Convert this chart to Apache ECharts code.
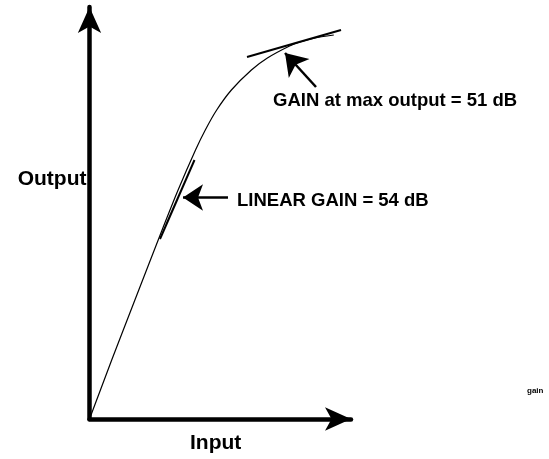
<!DOCTYPE html>
<html>
<head>
<meta charset="utf-8">
<script src="https://cdn.jsdelivr.net/npm/echarts@6/dist/echarts.min.js"></script>
<style>
  html, body { margin: 0; padding: 0; background: #fff; }
  #chart { width: 549px; height: 459px; }
</style>
</head>
<body>
<div id="chart"></div>
<script>
// Gain compression curve: output vs input (arbitrary units 0..100)
const curveX = [0, 8.49, 17.36, 27.76, 33.88, 40.54, 44.28, 48.64, 54.26, 61.91, 68.03, 76.52, 80.5, 86.23, 93.42];
const curveY = [0, 14.32, 28.88, 45.87, 55.58, 65.29, 70.15, 75.0, 79.85, 84.71, 87.62, 90.53, 91.5, 92.48, 93.2];

// Tangent at the linear (small-signal) region
const linTanX = [26.96, 40.15];
const linTanY = [43.69, 62.86];

// Tangent at maximum output
const maxTanX = [60.23, 96.18];
const maxTanY = [87.86, 94.42];

// Annotation arrows: [tailX, tailY, tipX, tipY]
const linArrow = [52.96, 53.76, 35.76, 53.76];
const maxArrow = [86.62, 80.58, 74.76, 88.83];

const labels = {
  output: 'Output',
  input: 'Input',
  linear: 'LINEAR GAIN = 54 dB',
  maxGain: 'GAIN at max output = 51 dB',
  tag: 'gain'
};

const FONT = '"Liberation Sans", Arial, sans-serif';
const pairs = (xs, ys) => xs.map((x, i) => [x, ys[i]]);

const chart = echarts.init(document.getElementById('chart'), null, { renderer: 'canvas' });

const axisCommon = {
  type: 'value',
  min: 0,
  max: 100,
  axisTick: { show: false },
  axisLabel: { show: false },
  splitLine: { show: false },
  axisLine: {
    show: true,
    onZero: false,
    symbol: ['none', 'arrow'],
    symbolSize: [17.5, 26],
    lineStyle: { color: '#000', width: 4.5 }
  }
};

chart.setOption({
  animation: false,
  backgroundColor: '#fff',
  grid: { left: 89.5, right: 198, top: 7, bottom: 40 },
  xAxis: axisCommon,
  yAxis: axisCommon,
  series: [
    {
      type: 'line',
      data: pairs(curveX, curveY),
      smooth: 0.2,
      showSymbol: false,
      clip: false,
      lineStyle: { color: '#000', width: 1.2 }
    },
    {
      type: 'line',
      data: pairs(linTanX, linTanY),
      showSymbol: false,
      clip: false,
      lineStyle: { color: '#000', width: 2 }
    },
    {
      type: 'line',
      data: pairs(maxTanX, maxTanY),
      showSymbol: false,
      clip: false,
      lineStyle: { color: '#000', width: 2 }
    },
    {
      type: 'lines',
      coordinateSystem: 'cartesian2d',
      symbol: ['none', 'arrow'],
      symbolSize: 20,
      lineStyle: { color: '#000', width: 2.5, opacity: 1 },
      data: [
        { coords: [[linArrow[0], linArrow[1]], [linArrow[2], linArrow[3]]], symbolSize: [11, 20] },
        { coords: [[maxArrow[0], maxArrow[1]], [maxArrow[2], maxArrow[3]]], symbolSize: [13, 21] }
      ]
    }
  ],
  graphic: [
    {
      type: 'text', right: 549 - 86.5, top: 181 - 12,
      style: { text: labels.output, font: 'bold 21px ' + FONT, fill: '#000' }
    },
    {
      type: 'text', left: 190, top: 445 - 12,
      style: { text: labels.input, font: 'bold 21px ' + FONT, fill: '#000' }
    },
    {
      type: 'text', left: 237, top: 202 - 10.5,
      style: { text: labels.linear, font: 'bold 18.5px ' + FONT, fill: '#000' }
    },
    {
      type: 'text', left: 273, top: 101.5 - 10.5,
      style: { text: labels.maxGain, font: 'bold 18.5px ' + FONT, fill: '#000' }
    },
    {
      type: 'text', left: 527, top: 387,
      style: { text: labels.tag, font: 'bold 8px ' + FONT, fill: '#000' }
    }
  ]
});
</script>
</body>
</html>
